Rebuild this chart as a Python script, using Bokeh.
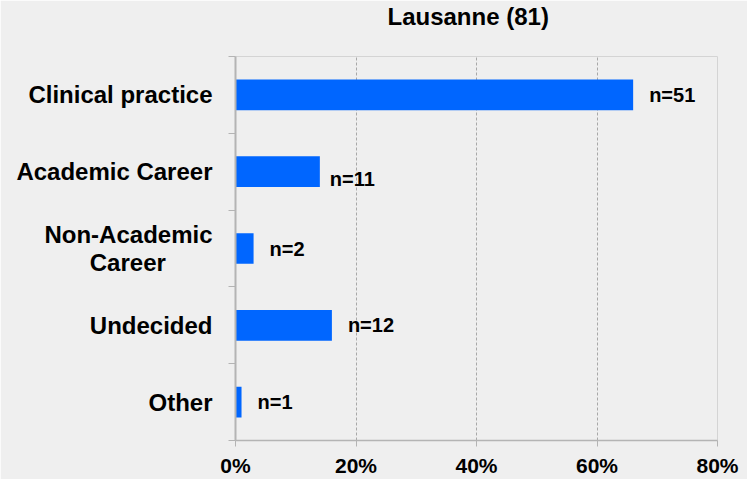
from bokeh.plotting import figure
from bokeh.models import ColumnDataSource, FixedTicker, NumeralTickFormatter, Range1d, Title
from bokeh.core.properties import value
from bokeh.embed import file_html
from bokeh.resources import INLINE

# ---- data ----
categories = ["Clinical practice", "Academic Career", "Non-Academic\nCareer", "Undecided", "Other"]
share = [0.66, 0.14, 0.03, 0.16, 0.01]
counts = [51, 11, 2, 12, 1]
x_ticks = [0.0, 0.2, 0.4, 0.6, 0.8]
title_text = "Lausanne (81)"

# ---- layout / style ----
n = len(categories)
ypos = [n - 1 - i for i in range(n)]
label_dx = [16, 10, 16, 16, 16]
label_dy = [0, 7, 0, 0, 0]
NBSP = "\u00a0"


def centred(lbl):
    # pad shorter lines so a right-aligned multi-line label looks centred
    lines = lbl.split("\n")
    if len(lines) == 1:
        return lbl
    return lines[0] + "\n" + lines[1] + NBSP * 7


src = ColumnDataSource(dict(
    y=ypos, share=share,
    label=[f"n={c}" for c in counts],
    dx=label_dx, dy=label_dy,
))

FONT = "Liberation Sans"
BG = "#EFEFEF"

p = figure(width=747, height=479, output_backend="svg", toolbar_location=None,
           x_range=Range1d(0, 0.8), y_range=Range1d(-0.5, n - 0.5),
           min_border_left=235, min_border_right=30, min_border_top=56, min_border_bottom=38)

# spacer between frame and title (nearest the frame)
p.add_layout(Title(text=" ", text_font_size="1px", standoff=24), "above")

p.title.text = title_text
p.title.align = "left"
p.title.offset = 152
p.title.text_font = FONT
p.title.text_font_size = "24px"
p.title.text_font_style = "bold"
p.title.text_color = "black"
p.title.standoff = 0

p.background_fill_color = BG
p.border_fill_color = BG
p.outline_line_color = "#D4D4D4"

p.hbar(y="y", right="share", left=0, height=0.4, source=src,
       fill_color="#0066FF", line_color=None)

p.text(x="share", y="y", text="label", source=src, x_offset="dx", y_offset="dy",
       text_font=value(FONT), text_font_size="20px", text_font_style="bold",
       text_color="black", text_baseline="middle", text_align="left")

# x axis
xa = p.xaxis[0]
xa.ticker = FixedTicker(ticks=x_ticks)
xa.formatter = NumeralTickFormatter(format="0%")
xa.axis_line_color = "#B4B4B4"
xa.axis_line_width = 1.5
xa.major_tick_line_color = "#B4B4B4"
xa.major_tick_out = 6
xa.major_tick_in = 0
xa.minor_tick_line_color = None
xa.major_label_text_font = FONT
xa.major_label_text_font_size = "21px"
xa.major_label_text_font_style = "bold"
xa.major_label_text_color = "black"
xa.major_label_standoff = 7

# y axis
ya = p.yaxis[0]
ya.ticker = FixedTicker(ticks=ypos, minor_ticks=[k - 0.5 for k in range(n + 1)])
ya.major_label_overrides = {ypos[i]: centred(categories[i]) for i in range(n)}
ya.axis_line_color = "#B4B4B4"
ya.axis_line_width = 2
ya.major_tick_line_color = None
ya.major_tick_out = 0
ya.major_tick_in = 0
ya.minor_tick_line_color = "#B4B4B4"
ya.minor_tick_out = 7
ya.minor_tick_in = 0
ya.major_label_text_font = FONT
ya.major_label_text_font_size = "24px"
ya.major_label_text_font_style = "bold"
ya.major_label_text_color = "black"
ya.major_label_text_line_height = 1.05
ya.major_label_standoff = 16

p.xgrid.ticker = FixedTicker(ticks=x_ticks)
p.xgrid.grid_line_color = "#A8A8A8"
p.xgrid.grid_line_dash = "3 2"
p.xgrid.grid_line_width = 1
p.ygrid.grid_line_color = None

open("out.html", "w").write(file_html(p, INLINE))
